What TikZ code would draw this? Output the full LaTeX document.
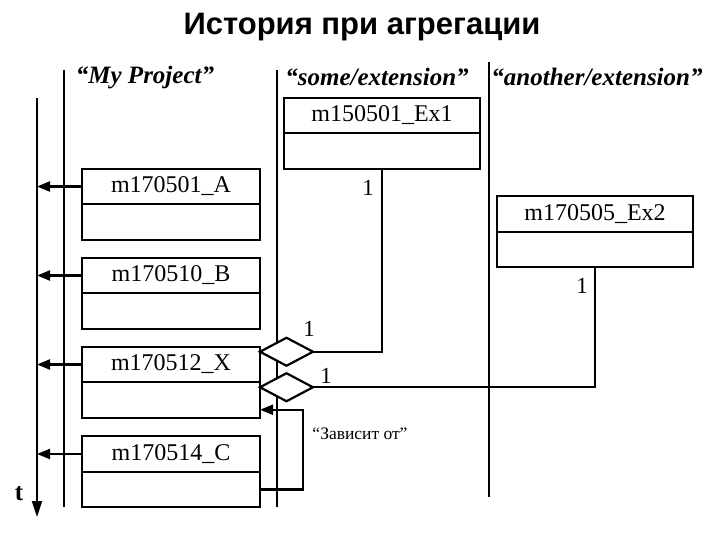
\documentclass[tikz,border=0pt]{standalone}
\usepackage{fontspec}
\setmainfont{Liberation Serif}
\newfontfamily\titlefont{Liberation Sans}
\usetikzlibrary{arrows.meta,shapes.geometric,positioning}

\begin{document}
\begin{tikzpicture}[x=1pt,y=-1pt,line width=2.2pt,>={Triangle[length=13pt,width=10pt]},
cls/.style={draw,outer sep=0pt,minimum width=178pt,minimum height=35.5pt,inner sep=0pt,font=\fontsize{24}{26}\selectfont},
ext/.style={cls,minimum width=196pt},
agg/.style={draw,fill=white,diamond,outer sep=0pt,minimum width=53pt,minimum height=28pt,inner sep=0pt},
lane/.style={font=\fontsize{25}{28}\selectfont\bfseries\itshape},
mult/.style={font=\fontsize{23}{26}\selectfont}]
\useasboundingbox (0,0) rectangle (720,540);
\node[font=\titlefont\fontsize{31}{34}\selectfont\bfseries] (title) at (362,27) {История при агрегации};
% swimlanes
\foreach \x/\a/\b in {64/70/507,277/70/507,489/62/497}
\draw (\x,\a)--(\x,\b);
\node[lane] (l1) at (145,78) {“My Project”};
\node[lane] (l2) at (377,77) {“some/extension”};
\node[lane] (l3) at (597,77) {“another/extension”};
% time axis
\coordinate (t0) at (37,98);
\coordinate (t1) at (37,517);
\draw[->,>={Triangle[length=16pt,width=10pt]}] (t0)--(t1);
\node[font=\fontsize{25}{27}\selectfont\bfseries] (tl) at (19,494) {t};
% migrations
\foreach \n/\y/\s in {A/186.5/m170501\_A,B/275.5/m170510\_B,X/364.5/m170512\_X,C/454/m170514\_C}
{\node[cls] (\n) at (171,\y) {\s};
\node[cls,below=0pt of \n] (\n2) {};
\draw[->] (\n.west)--(\n.west-|t0);}
\node[ext] (E1) at (382,115.5) {m150501\_Ex1};
\node[ext,below=0pt of E1] (E12) {};
\node[ext] (E2) at (595,214) {m170505\_Ex2};
\node[ext,below=0pt of E2] (E22) {};
% aggregation
\node[agg,anchor=west] (d1) at ([yshift=-5pt]X.north east) {};
\node[agg,anchor=west] (d2) at ([yshift=-5pt]X2.north east) {};
\draw (d1.east)-|(E12.south);
\draw (d2.east)-|(E22.south);
\node[mult] (m1) at (368,188) {1};
\node[mult] (m2) at (582,286) {1};
\node[mult] (m3) at (309,329) {1};
\node[mult] (m4) at (326,376) {1};
% dependency
\draw[->] (C2.east)--++(43,0)|-([yshift=8pt]X2.south east);
\node[font=\fontsize{17.5}{20}\selectfont] (dep) at (360,434) {“Зависит от”};
\end{tikzpicture}
\end{document}
